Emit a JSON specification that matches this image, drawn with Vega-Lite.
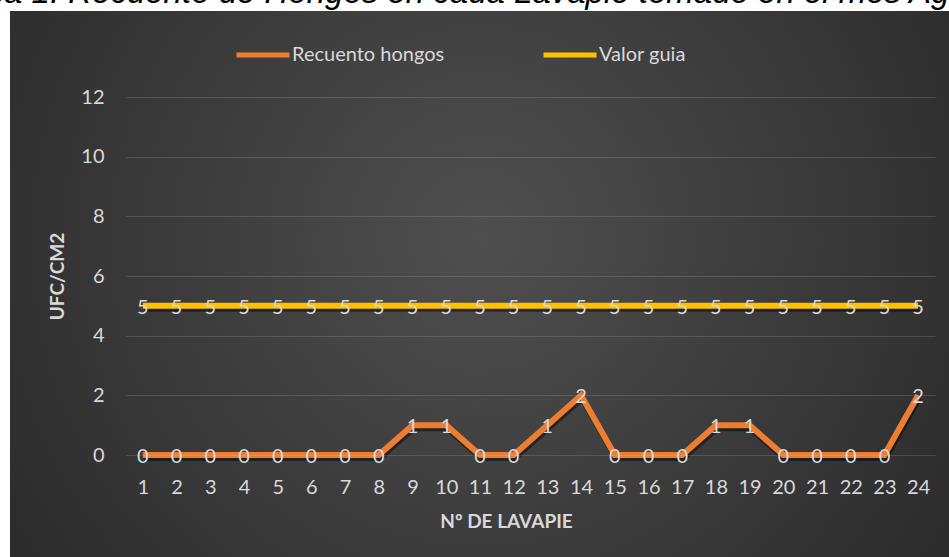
{
  "$schema": "https://vega.github.io/schema/vega-lite/v6.json",
  "width": 809,
  "height": 358,
  "autosize": {"type": "none"},
  "padding": {"left": 126, "top": 97, "right": 14, "bottom": 102},
  "background": "#ffffff",
  "title": {
    "text": "Gráfica 1: Recuento de Hongos en cada Lavapie tomado en el mes Agosto",
    "anchor": "start",
    "frame": "group",
    "font": "Liberation Sans",
    "fontStyle": "italic",
    "fontWeight": "normal",
    "fontSize": 33,
    "color": "#000000",
    "baseline": "alphabetic",
    "dx": -210,
    "offset": -25,
    "zindex": 2
  },
  "data": {
    "values": [
      {"n": 1, "serie": "Recuento hongos", "v": 0},
      {"n": 2, "serie": "Recuento hongos", "v": 0},
      {"n": 3, "serie": "Recuento hongos", "v": 0},
      {"n": 4, "serie": "Recuento hongos", "v": 0},
      {"n": 5, "serie": "Recuento hongos", "v": 0},
      {"n": 6, "serie": "Recuento hongos", "v": 0},
      {"n": 7, "serie": "Recuento hongos", "v": 0},
      {"n": 8, "serie": "Recuento hongos", "v": 0},
      {"n": 9, "serie": "Recuento hongos", "v": 1},
      {"n": 10, "serie": "Recuento hongos", "v": 1},
      {"n": 11, "serie": "Recuento hongos", "v": 0},
      {"n": 12, "serie": "Recuento hongos", "v": 0},
      {"n": 13, "serie": "Recuento hongos", "v": 1},
      {"n": 14, "serie": "Recuento hongos", "v": 2},
      {"n": 15, "serie": "Recuento hongos", "v": 0},
      {"n": 16, "serie": "Recuento hongos", "v": 0},
      {"n": 17, "serie": "Recuento hongos", "v": 0},
      {"n": 18, "serie": "Recuento hongos", "v": 1},
      {"n": 19, "serie": "Recuento hongos", "v": 1},
      {"n": 20, "serie": "Recuento hongos", "v": 0},
      {"n": 21, "serie": "Recuento hongos", "v": 0},
      {"n": 22, "serie": "Recuento hongos", "v": 0},
      {"n": 23, "serie": "Recuento hongos", "v": 0},
      {"n": 24, "serie": "Recuento hongos", "v": 2},
      {"n": 1, "serie": "Valor guia", "v": 5},
      {"n": 2, "serie": "Valor guia", "v": 5},
      {"n": 3, "serie": "Valor guia", "v": 5},
      {"n": 4, "serie": "Valor guia", "v": 5},
      {"n": 5, "serie": "Valor guia", "v": 5},
      {"n": 6, "serie": "Valor guia", "v": 5},
      {"n": 7, "serie": "Valor guia", "v": 5},
      {"n": 8, "serie": "Valor guia", "v": 5},
      {"n": 9, "serie": "Valor guia", "v": 5},
      {"n": 10, "serie": "Valor guia", "v": 5},
      {"n": 11, "serie": "Valor guia", "v": 5},
      {"n": 12, "serie": "Valor guia", "v": 5},
      {"n": 13, "serie": "Valor guia", "v": 5},
      {"n": 14, "serie": "Valor guia", "v": 5},
      {"n": 15, "serie": "Valor guia", "v": 5},
      {"n": 16, "serie": "Valor guia", "v": 5},
      {"n": 17, "serie": "Valor guia", "v": 5},
      {"n": 18, "serie": "Valor guia", "v": 5},
      {"n": 19, "serie": "Valor guia", "v": 5},
      {"n": 20, "serie": "Valor guia", "v": 5},
      {"n": 21, "serie": "Valor guia", "v": 5},
      {"n": 22, "serie": "Valor guia", "v": 5},
      {"n": 23, "serie": "Valor guia", "v": 5},
      {"n": 24, "serie": "Valor guia", "v": 5}
    ]
  },
  "encoding": {
    "x": {
      "field": "n",
      "type": "quantitative",
      "scale": {"domain": [0.5, 24.5], "nice": false, "zero": false},
      "axis": {
        "title": "Nº DE LAVAPIE",
        "values": [1,2,3,4,5,6,7,8,9,10,11,12,13,14,15,16,17,18,19,20,21,22,23,24],
        "grid": false,
        "domain": false,
        "ticks": false,
        "labelPadding": 22,
        "titlePadding": 15,
        "titleX": 380,
        "zindex": 1
      }
    },
    "y": {
      "field": "v",
      "type": "quantitative",
      "scale": {"domain": [0, 12], "nice": false},
      "axis": {
        "title": "UFC/CM2",
        "values": [0, 2, 4, 6, 8, 10, 12],
        "domain": false,
        "ticks": false,
        "labelPadding": 22,
        "titlePadding": 13,
        "zindex": 1
      }
    }
  },
  "layer": [
    {
      "mark": {
        "type": "rect",
        "clip": false,
        "fill": {
          "gradient": "radial",
          "x1": 0.5, "y1": 0.45, "x2": 0.5, "y2": 0.45,
          "r1": 0, "r2": 0.72,
          "stops": [
            {"offset": 0, "color": "#4f4f4f"},
            {"offset": 1, "color": "#242424"}
          ]
        }
      },
      "encoding": {
        "x": {"datum": -2.94, "type": "quantitative"},
        "x2": {"datum": 25},
        "y": {"datum": -3.5, "type": "quantitative"},
        "y2": {"datum": 14.88}
      }
    },
    {
      "mark": {"type": "line", "strokeWidth": 6, "color": "#000000", "opacity": 0.45, "xOffset": 1, "yOffset": 3, "strokeJoin": "miter"},
      "encoding": {"detail": {"field": "serie"}}
    },
    {
      "mark": {"type": "line", "strokeWidth": 6, "strokeJoin": "miter"},
      "encoding": {
        "color": {
          "field": "serie",
          "type": "nominal",
          "scale": {"domain": ["Recuento hongos", "Valor guia"], "range": ["#ED7D31", "#FFC000"]},
          "legend": {
            "title": null,
            "orient": "none",
            "direction": "horizontal",
            "legendX": 108,
            "legendY": -71,
            "symbolType": "stroke",
            "symbolSize": 2809,
            "symbolStrokeWidth": 5,
            "labelFont": "Lato",
            "labelFontSize": 20,
            "labelColor": "#d9d9d9",
            "labelOffset": 0,
            "columnPadding": 88
          }
        }
      }
    },
    {
      "mark": {"type": "text", "font": "Lato", "fontSize": 20, "color": "#d9d9d9", "baseline": "middle", "dy": 2},
      "encoding": {"text": {"field": "v", "type": "quantitative"}}
    }
  ],
  "config": {
    "view": {"stroke": null},
    "axis": {
      "zindex": 1,
      "labelFont": "Lato",
      "labelFontSize": 20,
      "labelColor": "#d9d9d9",
      "titleFont": "Lato",
      "titleFontSize": 19,
      "titleFontWeight": "bold",
      "titleColor": "#d9d9d9",
      "gridColor": "#ffffff",
      "gridOpacity": 0.13,
      "gridWidth": 1
    }
  }
}
